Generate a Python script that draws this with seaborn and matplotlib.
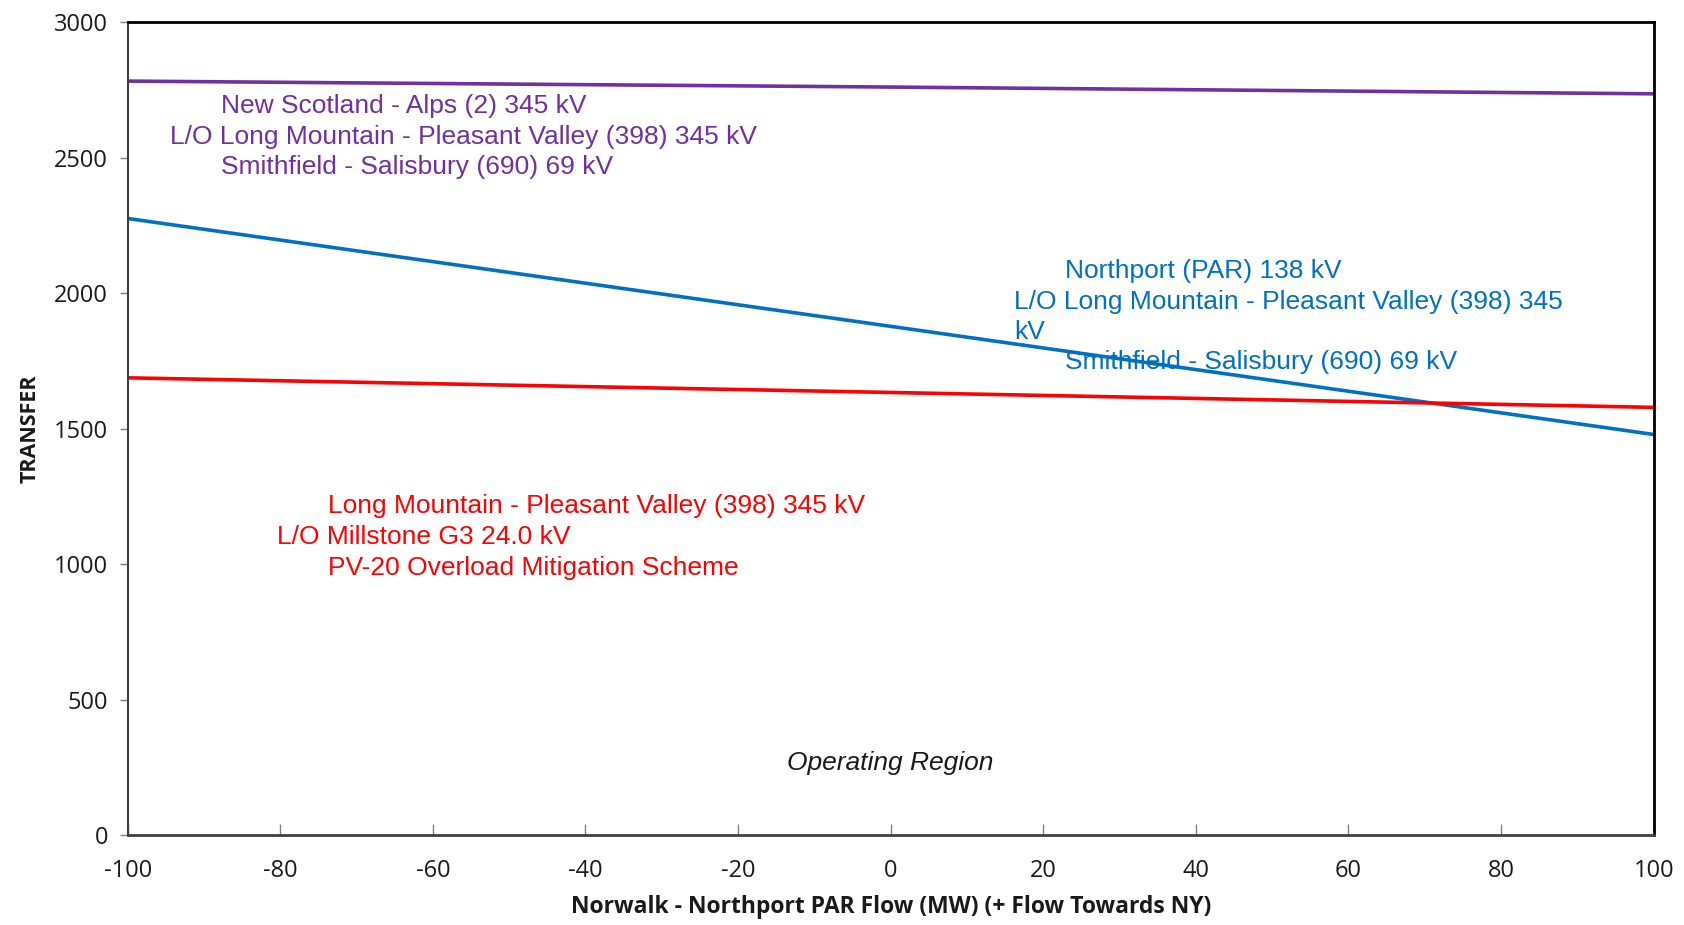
import matplotlib
matplotlib.use("Agg")
import matplotlib.pyplot as plt
from matplotlib import font_manager
import seaborn as sns
import pandas as pd

# ---- data ----
flow = [-100, 0, 100]
new_scotland = [2782, 2760, 2735]
northport = [2275, 1877, 1478]
long_mountain = [1687, 1633, 1578]

series_names = ["New Scotland", "Northport", "Long Mountain"]
colors = ["#7030A0", "#0070C0", "#FF0000"]

xticks = [-100, -80, -60, -40, -20, 0, 20, 40, 60, 80, 100]
yticks = [0, 500, 1000, 1500, 2000, 2500, 3000]

purple_lines = ["New Scotland - Alps (2) 345 kV",
                "L/O Long Mountain - Pleasant Valley (398) 345 kV",
                "Smithfield - Salisbury (690) 69 kV"]
blue_lines = ["Northport (PAR) 138 kV",
              "L/O Long Mountain - Pleasant Valley (398) 345",
              "kV",
              "Smithfield - Salisbury (690) 69 kV"]
red_lines = ["Long Mountain - Pleasant Valley (398) 345 kV",
             "L/O Millstone G3 24.0 kV",
             "PV-20 Overload Mitigation Scheme"]

df = pd.DataFrame({
    "flow": flow * 3,
    "transfer": new_scotland + northport + long_mountain,
    "series": [series_names[0]] * 3 + [series_names[1]] * 3 + [series_names[2]] * 3,
})

sns.set_theme(style="white")
names = {f.name for f in font_manager.fontManager.ttflist}
narrow = "Liberation Sans Narrow" in names
ann_family = ["Liberation Sans Narrow"] if narrow else ["Liberation Sans"]
ann_size = 22 if narrow else 19
tick_family = ["Open Sans", "DejaVu Sans"]
plt.rcParams["font.family"] = tick_family
plt.rcParams["axes.unicode_minus"] = False

fig = plt.figure(figsize=(16.84, 9.25), dpi=100)
ax = fig.add_axes([0.0758, 0.0973, 0.9062, 0.8789])

sns.lineplot(data=df, x="flow", y="transfer", hue="series",
             palette=dict(zip(series_names, colors)), linewidth=2.6,
             legend=False, ax=ax)

ax.set_xlim(-100, 100)
ax.set_ylim(0, 3000)
ax.set_xticks(xticks)
ax.set_yticks(yticks)
ax.tick_params(axis="y", direction="out", length=6, width=1, color="#808080",
               labelsize=17, labelcolor="#1a1a1a", left=True, pad=8)
ax.tick_params(axis="x", direction="in", length=8, width=1, color="#808080",
               labelsize=17, labelcolor="#1a1a1a", bottom=True, pad=17)

for side in ["top", "right"]:
    ax.spines[side].set_color("black")
    ax.spines[side].set_linewidth(2)
ax.spines["left"].set_color("#404040")
ax.spines["left"].set_linewidth(1.5)
ax.spines["bottom"].set_color("#404040")
ax.spines["bottom"].set_linewidth(2)

ax.set_xlabel("Norwalk - Northport PAR Flow (MW) (+ Flow Towards NY)",
              fontsize=16.5, fontweight="bold", color="#1a1a1a", labelpad=9)
ax.set_ylabel("TRANSFER", fontsize=15.5, fontweight="bold", color="#1a1a1a",
              labelpad=10)

def block(lines, xs, ys, color):
    for t, x, y in zip(lines, xs, ys):
        ax.text(x, y, t, color=color, fontsize=ann_size, family=ann_family,
                ha="left", va="center")

block(purple_lines, [-87.7, -94.5, -87.7], [2691, 2576, 2465], colors[0])
block(blue_lines, [22.8, 16.2, 16.2, 22.8], [2081, 1966, 1855, 1744], colors[1])
block(red_lines, [-73.7, -80.4, -73.7], [1213, 1098, 987], colors[2])

ax.text(0, 265, "Operating Region", fontsize=ann_size, family=ann_family,
        style="italic", color="#1a1a1a", ha="center", va="center")

fig.savefig("out.png", dpi=100, facecolor="white")
